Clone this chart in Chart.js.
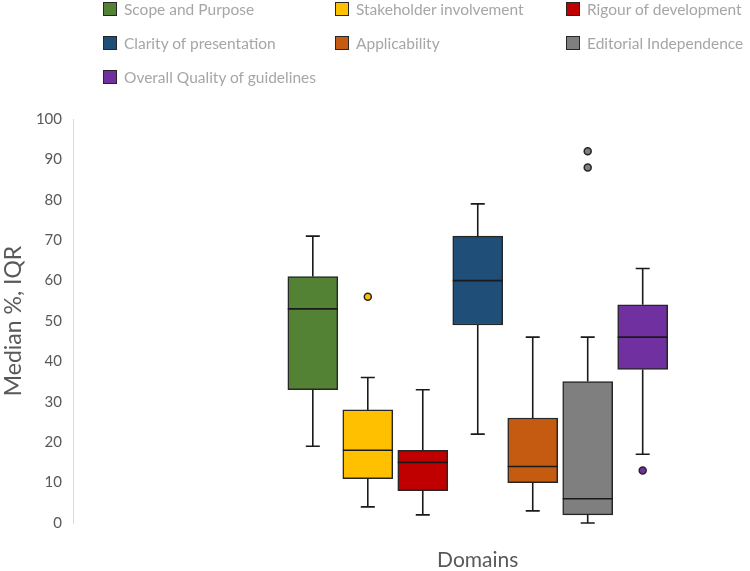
<!DOCTYPE html>
<html>
<head>
<meta charset="utf-8">
<script src="https://cdn.jsdelivr.net/npm/chart.js@4.4.1/dist/chart.umd.min.js"></script>
<style>
    html, body {
        margin: 0;
        padding: 0;
        background: #ffffff;
        overflow: hidden;
        width: 750px;
        height: 571px;
    }

    #wrap {
        position: relative;
        width: 750px;
        height: 571px;
        overflow: hidden;
    }

    #chart {
        position: absolute;
        left: 0;
        top: 0;
    }

    #legend {
        position: absolute;
        left: 0;
        top: 0;
        width: 750px;
        font-family: Lato, "Open Sans", sans-serif;
        font-size: 15.5px;
        color: #a6a6a6;
    }

    .legend-item {
        position: absolute;
        display: flex;
        align-items: center;
        height: 20px;
        white-space: nowrap;
    }

    .legend-box {
        width: 12px;
        height: 12px;
        border: 1.5px solid #262626;
        margin-right: 7px;
    }
</style>
</head>
<body>
<div id="wrap">
    <canvas id="chart" width="888" height="571"></canvas>
    <div id="legend"></div>
</div>
<script>
    // Values (percent scores per AGREE II domain)
    const domains = [
        "Scope and Purpose",
        "Stakeholder involvement",
        "Rigour of development",
        "Clarity of presentation",
        "Applicability",
        "Editorial Independence",
        "Overall Quality of guidelines"
    ];
    const whiskerMin = [19, 4, 2, 22, 3, 0, 17];
    const quartile1 = [33, 11, 8, 49, 10, 2, 38];
    const medians = [53, 18, 15, 60, 14, 6, 46];
    const quartile3 = [61, 28, 18, 71, 26, 35, 54];
    const whiskerMax = [71, 36, 33, 79, 46, 46, 63];
    const outliers = [[], [56], [], [], [], [92, 88], [13]];
    const yTicks = [0, 10, 20, 30, 40, 50, 60, 70, 80, 90, 100];

    const colors = ["#548235", "#ffc000", "#c00000", "#1f4e79", "#c55a11", "#7f7f7f", "#7030a0"];
    const edge = "#262626";
    const fontFamily = "Lato, 'Open Sans', sans-serif";

    const datasets = [];

    domains.forEach(function (name, i) {
        datasets.push({
            type: "bar",
            label: name,
            isBox: true,
            data: [{ x: i + 1, y: [quartile1[i], quartile3[i]] }],
            backgroundColor: colors[i],
            borderColor: edge,
            borderWidth: 1.5,
            borderSkipped: false,
            barThickness: 50,
            grouped: false,
            order: 2
        });
    });

    domains.forEach(function (name, i) {
        if (!outliers[i].length) {
            return;
        }
        datasets.push({
            type: "scatter",
            label: name + " outliers",
            data: outliers[i].map(function (v) { return { x: i + 1, y: v }; }),
            backgroundColor: colors[i],
            borderColor: edge,
            borderWidth: 1.5,
            pointRadius: 3.5,
            order: 1
        });
    });

    // Whiskers, caps and median lines drawn from the same values through the scales.
    const boxLines = {
        id: "boxLines",
        afterDatasetsDraw: function (chart) {
            const ctx = chart.ctx;
            const y = chart.scales.y;

            ctx.save();
            ctx.strokeStyle = "#1a1a1a";
            ctx.lineWidth = 1.6;

            chart.data.datasets.forEach(function (dataset, d) {
                if (!dataset.isBox) {
                    return;
                }
                const bar = chart.getDatasetMeta(d).data[0];
                const half = bar.width / 2;
                const cap = 7;
                const yMin = y.getPixelForValue(whiskerMin[d]);
                const yQ1 = y.getPixelForValue(quartile1[d]);
                const yQ3 = y.getPixelForValue(quartile3[d]);
                const yMax = y.getPixelForValue(whiskerMax[d]);
                const yMed = y.getPixelForValue(medians[d]);

                ctx.beginPath();
                ctx.moveTo(bar.x, yQ1);
                ctx.lineTo(bar.x, yMin);
                ctx.moveTo(bar.x - cap, yMin);
                ctx.lineTo(bar.x + cap, yMin);
                ctx.moveTo(bar.x, yQ3);
                ctx.lineTo(bar.x, yMax);
                ctx.moveTo(bar.x - cap, yMax);
                ctx.lineTo(bar.x + cap, yMax);
                ctx.moveTo(bar.x - half, yMed);
                ctx.lineTo(bar.x + half, yMed);
                ctx.stroke();
            });

            ctx.restore();
        }
    };

    const chart = new Chart(document.getElementById("chart"), {
        data: { datasets: datasets },
        plugins: [boxLines],
        options: {
            responsive: false,
            animation: false,
            devicePixelRatio: 1,
            layout: {
                padding: { top: 119, right: 0, bottom: 0, left: 0 }
            },
            plugins: {
                legend: { display: false },
                tooltip: { enabled: false }
            },
            scales: {
                x: {
                    type: "linear",
                    offset: false,
                    min: -3.362,
                    max: 11.362,
                    grid: { display: false, drawTicks: false },
                    border: { display: false },
                    ticks: { display: false },
                    title: {
                        display: true,
                        text: "Domains",
                        color: "#595959",
                        font: { family: fontFamily, size: 21, lineHeight: 1 },
                        padding: { top: 27, bottom: 0 }
                    }
                },
                y: {
                    min: 0,
                    max: 100,
                    afterBuildTicks: function (scale) {
                        scale.ticks = yTicks.map(function (v) { return { value: v }; });
                    },
                    afterFit: function (scale) {
                        scale.width = 73;
                    },
                    grid: { display: false, drawTicks: false },
                    border: { display: true, color: "#d9d9d9", width: 1 },
                    ticks: {
                        color: "#595959",
                        padding: 11,
                        font: { family: fontFamily, size: 15 }
                    },
                    title: {
                        display: true,
                        text: "Median %, IQR",
                        color: "#595959",
                        font: { family: fontFamily, size: 23, lineHeight: 1.15 },
                        padding: { top: 0, bottom: 0 }
                    }
                }
            }
        }
    });

    // Legend in three columns, like the original figure.
    const legendColumns = [103, 335, 566];
    const legendRows = [9, 43, 77];
    const legend = document.getElementById("legend");

    chart.data.datasets.forEach(function (dataset, i) {
        if (!dataset.isBox) {
            return;
        }
        const item = document.createElement("div");
        item.className = "legend-item";
        item.style.left = legendColumns[i % 3] + "px";
        item.style.top = (legendRows[Math.floor(i / 3)] - 10) + "px";

        const box = document.createElement("span");
        box.className = "legend-box";
        box.style.background = dataset.backgroundColor;

        const text = document.createElement("span");
        text.textContent = dataset.label;

        item.appendChild(box);
        item.appendChild(text);
        legend.appendChild(item);
    });
</script>
</body>
</html>
